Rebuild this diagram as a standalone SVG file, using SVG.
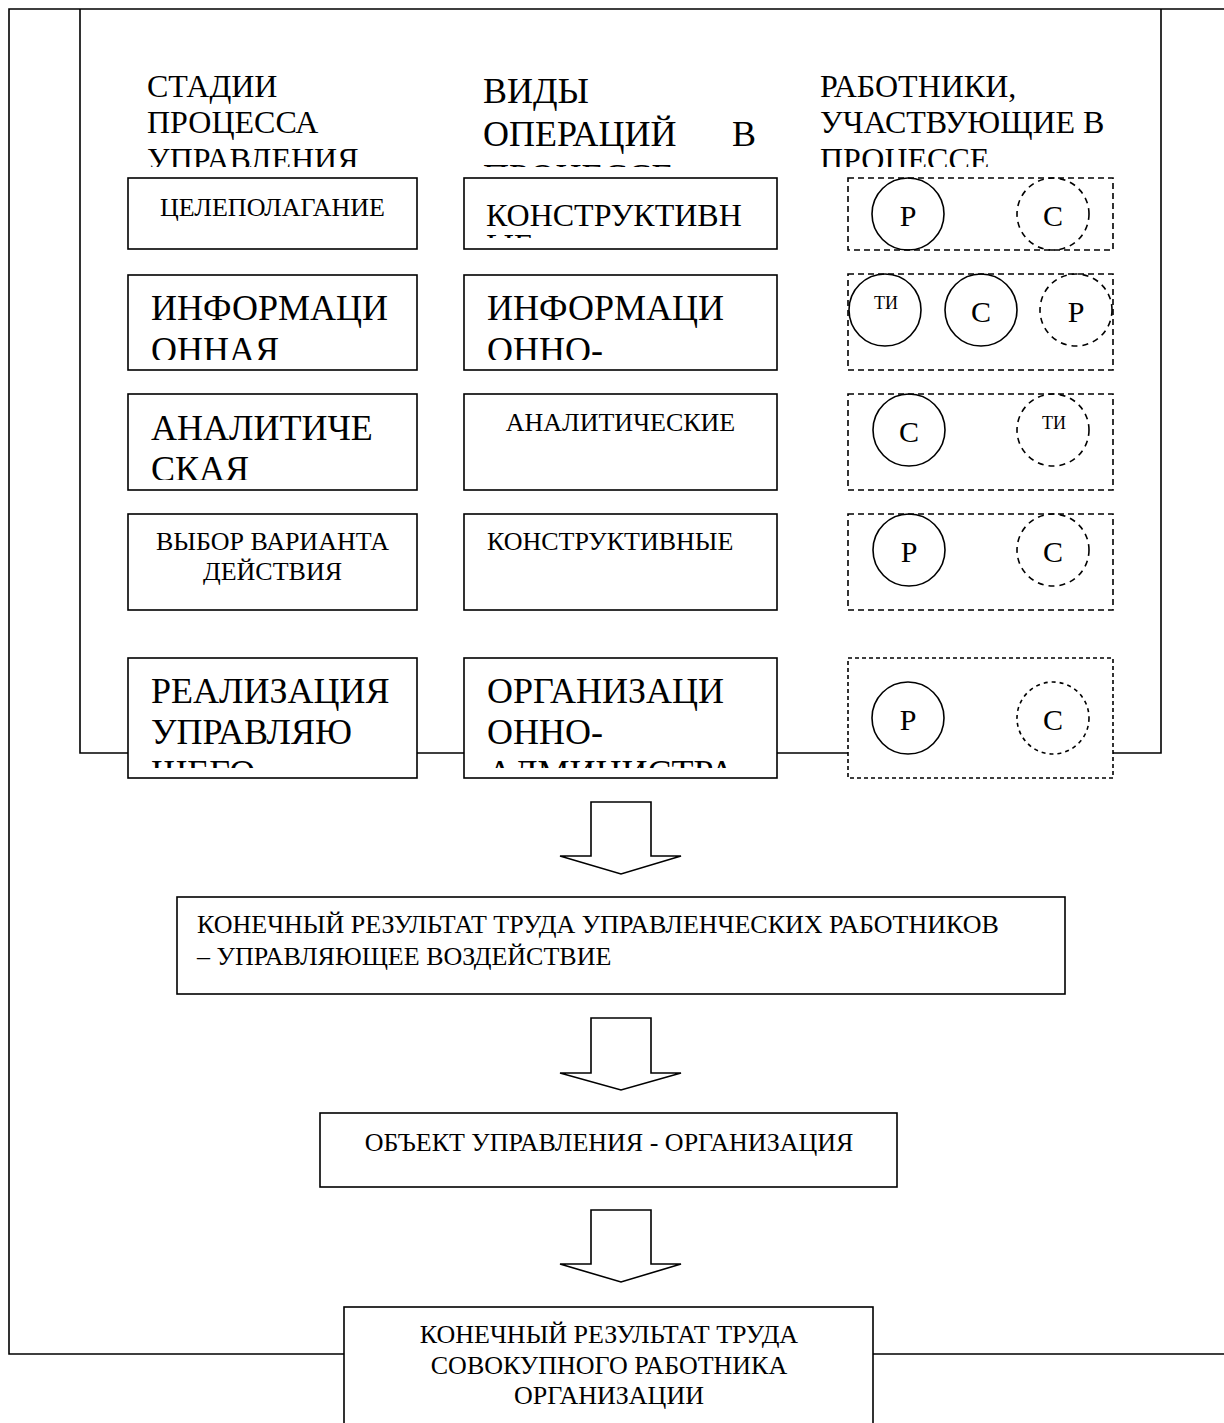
<svg xmlns="http://www.w3.org/2000/svg" width="1224" height="1423" viewBox="0 0 1224 1423">
<style>
text{font-family:"Liberation Serif","Times New Roman",serif;fill:#000}
.box{fill:#fff;stroke:#000;stroke-width:1.6}
.dbox{fill:#fff;stroke:#000;stroke-width:1.6;stroke-dasharray:6 4}
.c{fill:none;stroke:#000;stroke-width:1.6}
.dc{fill:none;stroke:#000;stroke-width:1.6;stroke-dasharray:6 5}
.ln{fill:none;stroke:#000;stroke-width:1.6}
.arr{fill:#fff;stroke:#000;stroke-width:1.6;stroke-linejoin:miter}
.hd{font-size:32px}
.hd2{font-size:36px}
.big{font-size:36px}
.sm{font-size:26px}
.ltr{font-size:30px}
.ti{font-size:18px}
</style>
<defs>
<clipPath id="clipHead"><rect x="0" y="0" width="1224" height="167"/></clipPath>
<clipPath id="clipR1"><rect x="0" y="0" width="1224" height="238"/></clipPath>
<clipPath id="clipR2"><rect x="0" y="0" width="1224" height="360"/></clipPath>
<clipPath id="clipR3"><rect x="0" y="0" width="1224" height="480"/></clipPath>
<clipPath id="clipR5"><rect x="0" y="0" width="1224" height="768"/></clipPath>
</defs>
<rect width="1224" height="1423" fill="#fff"/>

<g id="frame">
<polyline class="ln" points="1230,9 9,9 9,1354 1230,1354"/>
<polyline class="ln" points="80,9 80,753 1161,753 1161,9"/>
</g>

<g id="headers">
<g id="head-stages" clip-path="url(#clipHead)">
<text class="hd" x="147" y="97">СТАДИИ</text>
<text class="hd" x="147" y="133">ПРОЦЕССА</text>
<text class="hd" x="147" y="170">УПРАВЛЕНИЯ</text>
</g>
<g id="head-ops" clip-path="url(#clipHead)">
<text class="hd2" x="483" y="103">ВИДЫ</text>
<text class="hd2" x="483" y="146">ОПЕРАЦИЙ</text>
<text class="hd2" x="732" y="146">В</text>
<text class="hd2" x="483" y="189">ПРОЦЕССЕ</text>
</g>
<g id="head-workers" clip-path="url(#clipHead)">
<text class="hd" x="820" y="97">РАБОТНИКИ,</text>
<text class="hd" x="820" y="133">УЧАСТВУЮЩИЕ В</text>
<text class="hd" x="820" y="170">ПРОЦЕССЕ</text>
</g>
</g>

<g id="stage1">
<rect class="box" x="128" y="178" width="289" height="71"/>
<text class="sm" x="272.5" y="216" text-anchor="middle">ЦЕЛЕПОЛАГАНИЕ</text>
</g>
<g id="op1">
<rect class="box" x="464" y="178" width="313" height="71"/>
<g clip-path="url(#clipR1)">
<text class="hd" x="486" y="226">КОНСТРУКТИВН</text>
<text class="hd" x="486" y="256">ЫЕ</text>
</g>
</g>
<g id="workers1">
<rect class="dbox" x="848" y="178" width="265" height="72"/>
<circle class="c" cx="908" cy="214" r="36"/>
<text class="ltr" x="908" y="226" text-anchor="middle">Р</text>
<circle class="dc" cx="1053" cy="214" r="36"/>
<text class="ltr" x="1053" y="226" text-anchor="middle">С</text>
</g>

<g id="stage2">
<rect class="box" x="128" y="275" width="289" height="95"/>
<g clip-path="url(#clipR2)">
<text class="big" x="151" y="320">ИНФОРМАЦИ</text>
<text class="big" x="151" y="362">ОННАЯ</text>
</g>
</g>
<g id="op2">
<rect class="box" x="464" y="275" width="313" height="95"/>
<g clip-path="url(#clipR2)">
<text class="big" x="487" y="320">ИНФОРМАЦИ</text>
<text class="big" x="487" y="362">ОННО-</text>
</g>
</g>
<g id="workers2">
<rect class="dbox" x="848" y="274" width="265" height="96"/>
<circle class="c" cx="885" cy="310" r="36"/>
<text class="ti" x="886" y="309" text-anchor="middle">ТИ</text>
<circle class="c" cx="981" cy="310" r="36"/>
<text class="ltr" x="981" y="322" text-anchor="middle">С</text>
<circle class="dc" cx="1076" cy="310" r="36"/>
<text class="ltr" x="1076" y="322" text-anchor="middle">Р</text>
</g>

<g id="stage3">
<rect class="box" x="128" y="394" width="289" height="96"/>
<g clip-path="url(#clipR3)">
<text class="big" x="151" y="440">АНАЛИТИЧЕ</text>
<text class="big" x="151" y="481">СКАЯ</text>
</g>
</g>
<g id="op3">
<rect class="box" x="464" y="394" width="313" height="96"/>
<text class="sm" x="620.5" y="431" text-anchor="middle">АНАЛИТИЧЕСКИЕ</text>
</g>
<g id="workers3">
<rect class="dbox" x="848" y="394" width="265" height="96"/>
<circle class="c" cx="909" cy="430" r="36"/>
<text class="ltr" x="909" y="442" text-anchor="middle">С</text>
<circle class="dc" cx="1053" cy="430" r="36"/>
<text class="ti" x="1054" y="429" text-anchor="middle">ТИ</text>
</g>

<g id="stage4">
<rect class="box" x="128" y="514" width="289" height="96"/>
<text class="sm" x="272.5" y="550" text-anchor="middle">ВЫБОР ВАРИАНТА</text>
<text class="sm" x="272.5" y="580" text-anchor="middle">ДЕЙСТВИЯ</text>
</g>
<g id="op4">
<rect class="box" x="464" y="514" width="313" height="96"/>
<text class="sm" x="487" y="550">КОНСТРУКТИВНЫЕ</text>
</g>
<g id="workers4">
<rect class="dbox" x="848" y="514" width="265" height="96"/>
<circle class="c" cx="909" cy="550" r="36"/>
<text class="ltr" x="909" y="562" text-anchor="middle">Р</text>
<circle class="dc" cx="1053" cy="550" r="36"/>
<text class="ltr" x="1053" y="562" text-anchor="middle">С</text>
</g>

<g id="stage5">
<rect class="box" x="128" y="658" width="289" height="120"/>
<g clip-path="url(#clipR5)">
<text class="big" x="151" y="703">РЕАЛИЗАЦИЯ</text>
<text class="big" x="151" y="744">УПРАВЛЯЮ</text>
<text class="big" x="151" y="785">ЩЕГО</text>
</g>
</g>
<g id="op5">
<rect class="box" x="464" y="658" width="313" height="120"/>
<g clip-path="url(#clipR5)">
<text class="big" x="487" y="703">ОРГАНИЗАЦИ</text>
<text class="big" x="487" y="744">ОННО-</text>
<text class="big" x="487" y="785">АДМИНИСТРА</text>
</g>
</g>
<g id="workers5">
<rect class="dbox" x="848" y="658" width="265" height="120" style="stroke-dasharray:4 3"/>
<circle class="c" cx="908" cy="718" r="36"/>
<text class="ltr" x="908" y="730" text-anchor="middle">Р</text>
<circle class="dc" cx="1053" cy="718" r="36" style="stroke-dasharray:4 4"/>
<text class="ltr" x="1053" y="730" text-anchor="middle">С</text>
</g>

<g id="result-managers">
<rect class="box" x="177" y="897" width="888" height="97"/>
<text class="sm" x="197" y="933">КОНЕЧНЫЙ РЕЗУЛЬТАТ ТРУДА УПРАВЛЕНЧЕСКИХ РАБОТНИКОВ</text>
<text class="sm" x="197" y="965">– УПРАВЛЯЮЩЕЕ ВОЗДЕЙСТВИЕ</text>
</g>
<g id="object">
<rect class="box" x="320" y="1113" width="577" height="74"/>
<text class="sm" x="609" y="1151" text-anchor="middle">ОБЪЕКТ УПРАВЛЕНИЯ - ОРГАНИЗАЦИЯ</text>
</g>
<g id="result-total">
<rect class="box" x="344" y="1307" width="529" height="130"/>
<text class="sm" x="609" y="1343" text-anchor="middle">КОНЕЧНЫЙ РЕЗУЛЬТАТ ТРУДА</text>
<text class="sm" x="609" y="1374" text-anchor="middle">СОВОКУПНОГО РАБОТНИКА</text>
<text class="sm" x="609" y="1404" text-anchor="middle">ОРГАНИЗАЦИИ</text>
</g>

<g id="connectors">
<polygon class="arr" points="591,802 651,802 651,856 681,856 621,874 560,856 591,856"/>
<polygon class="arr" points="591,1018 651,1018 651,1073 681,1073 621,1090 560,1073 591,1073"/>
<polygon class="arr" points="591,1210 651,1210 651,1264 681,1264 621,1282 560,1264 591,1264"/>
</g>
</svg>
